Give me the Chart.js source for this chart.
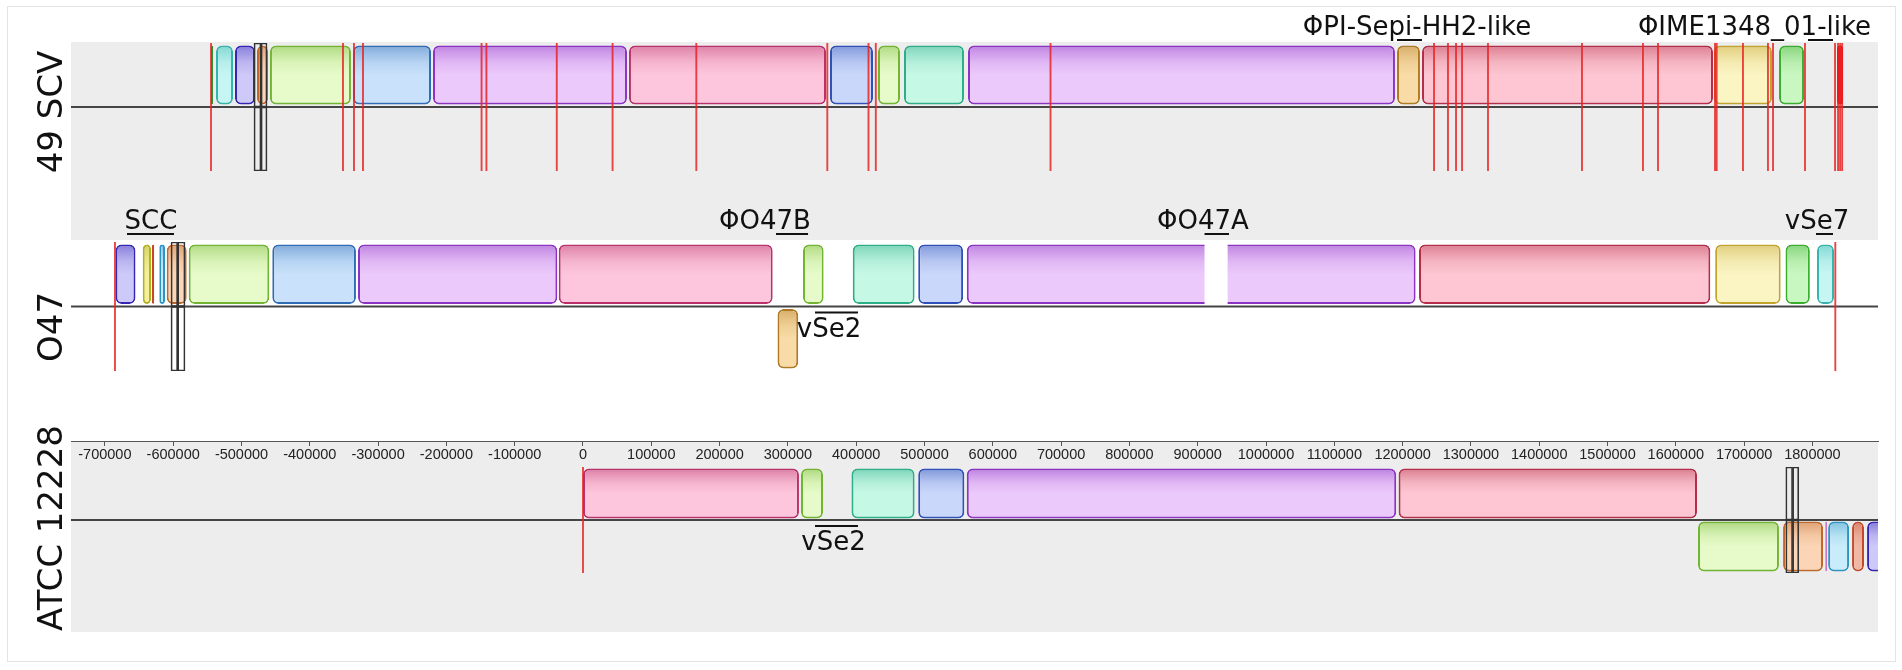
<!DOCTYPE html>
<html>
<head>
<meta charset="utf-8">
<style>
html, body { margin: 0; padding: 0; background: #fff; }
#stage { position: relative; width: 1902px; height: 670px; overflow: hidden; font-family: "DejaVu Sans", sans-serif; }
.frame { position: absolute; left: 7px; top: 6px; width: 1887px; height: 654px; border: 1px solid #e3e3e3; }
.shade { position: absolute; background: #ededed; }
canvas { position: absolute; left: 0; top: 0; }
.genome { position: absolute; font-size: 34px; color: #111; white-space: nowrap; transform: translate(-50%, -50%) rotate(-90deg); }
</style>
<script src="https://cdn.jsdelivr.net/npm/chart.js"></script>
</head>
<body>
<div id="stage">
  <div class="frame"></div>
  <div class="shade" style="left:71px;top:42px;width:1807px;height:198px"></div>
  <div class="shade" style="left:71px;top:441px;width:1807px;height:191px"></div>
  <canvas id="ruler" width="1902" height="670"></canvas>
  <canvas id="scv" width="1902" height="670"></canvas>
  <canvas id="o47" width="1902" height="670"></canvas>
  <canvas id="atcc" width="1902" height="670"></canvas>
  <div class="genome" style="left:50px;top:112px">49 SCV</div>
  <div class="genome" style="left:50px;top:327px">O47</div>
  <div class="genome" style="left:50px;top:528px">ATCC 12228</div>
</div>
<script>
// view window, in bp of the reference (ATCC 12228) coordinates
var X_MIN = -749600;
var X_MAX = 1896000;
var rulerTicks = [-700000, -600000, -500000, -400000, -300000, -200000, -100000, 0, 100000, 200000, 300000, 400000,
                  500000, 600000, 700000, 800000, 900000, 1000000, 1100000, 1200000, 1300000, 1400000, 1500000,
                  1600000, 1700000, 1800000];

// ---- 49 SCV ----
var scvStart  = [-544600, -537300, -509500, -477300, -458300, -336700, -219600, 67300, 361600, 431900, 470000, 563700, 1191800, 1228400, 1655900, 1751100, 1836000];
var scvEnd    = [-541700, -512400, -480200, -461200, -339700, -222500, 64400, 355800, 424600, 464100, 557800, 1188800, 1225400, 1654400, 1740800, 1787700, 1844900];
var scvLcb    = [17, 1, 2, 3, 4, 5, 6, 7, 8, 9, 10, 11, 12, 13, 14, 15, 16];
var scvStrand = ['+', '+', '+', '+', '+', '+', '+', '+', '+', '+', '+', '+', '+', '+', '+', '+', '+'];
var scvCuts   = [-544600, -351400, -335300, -322100, -148500, -141400, -38400, 43300, 165900, 357700, 418000, 428700, 684500,
                 1246000, 1266400, 1278200, 1287000, 1325000, 1462600, 1551900, 1573900, 1657400, 1659800, 1698300,
                 1734900, 1742300, 1789100, 1833100, 1837500, 1840500, 1843500];
var scvBoxFrom = [-481700, -471400];
var scvBoxTo   = [-471400, -462600];
var scvNoteText = ['ΦPI-Sepi-HH2-like', 'ΦIME1348_01-like'];
var scvNoteAt   = [1221100, 1715200];
var scvNoteFrom = [1191800, 1793500];
var scvNoteTo   = [1228400, 1830100];
var scvNoteSide = ['above', 'above'];

// ---- O47 ----
var o47Start  = [-684500, -644600, -631000, -620300, -609500, -577300, -454900, -329400, -35600, 284800, 322100, 394900, 490800, 561900, 1224000, 1657600, 1760600, 1806700];
var o47End    = [-655200, -632500, -627700, -612000, -580200, -459300, -332400, -37600, 277700, 315100, 352300, 485500, 556500, 1219000, 1650500, 1753500, 1796200, 1831600];
var o47Lcb    = [2, 18, 19, 20, 3, 4, 5, 6, 7, 12, 9, 10, 8, 11, 13, 14, 15, 1];
var o47Strand = ['+', '+', '+', '+', '+', '+', '+', '+', '+', '-', '+', '+', '+', '+', '+', '+', '+', '+'];
var o47Cuts   = [-685200, 1833500];
var o47BoxFrom = [-603200, -593400];
var o47BoxTo   = [-593400, -582700];
var o47GapFrom = [910000];
var o47GapTo   = [943800];
var o47NoteText = ['SCC', 'ΦO47B', 'ΦO47A', 'vSe7', 'vSe2'];
var o47NoteAt   = [-632500, 266500, 907700, 1806700, 360200];
var o47NoteFrom = [-667600, 282600, 910000, 1805200, 339700];
var o47NoteTo   = [-598800, 329500, 945800, 1830100, 402600];
var o47NoteSide = ['above', 'above', 'above', 'above', 'below'];

// ---- ATCC 12228 ----
var atccStart  = [0, 319200, 393100, 490800, 561900, 1194100, 1632500, 1757000, 1819000, 1823000, 1858000, 1880000];
var atccEnd    = [316200, 351400, 485500, 558300, 1190600, 1631000, 1751000, 1815500, 1821000, 1853600, 1875500, 1930000];
var atccLcb    = [7, 9, 10, 8, 11, 13, 4, 3, 21, 20, 19, 2];
var atccStrand = ['+', '+', '+', '+', '+', '+', '-', '-', '-', '-', '-', '-'];
var atccCuts   = [0];
var atccBoxFrom = [1761000, 1771000];
var atccBoxTo   = [1771000, 1780000];
var atccNoteText = ['vSe2'];
var atccNoteAt   = [366800];
var atccNoteFrom = [339700];
var atccNoteTo   = [402600];
var atccNoteSide = ['below'];

// LCB colours: [fill, edge]
var palette = {
  1: ['#c6f6f3', '#35b5ad'],  2: ['#cdc9f8', '#3525b5'],  3: ['#fbd5b5', '#c0682a'],
  4: ['#e6fbc9', '#72b530'],  5: ['#c9e1fa', '#2e6cb5'],  6: ['#ebc9fb', '#8c33c4'],
  7: ['#fdc6dc', '#b9306a'],  8: ['#c9d7fa', '#2f50b8'],  9: ['#e6fbc9', '#72b530'],
  10: ['#c6f8e6', '#2cae86'], 11: ['#ebc9fb', '#8c33c4'], 12: ['#f8dba6', '#b07a22'],
  13: ['#fdc6d2', '#b52d48'], 14: ['#fbf4c3', '#c2a32c'], 15: ['#c9f7c1', '#3aae2e'],
  16: ['#ff1010', '#ee0000'], 17: ['#2f8f2f', '#2f8f2f'], 18: ['#f3f09a', '#b4b020'],
  19: ['#f1b7a5', '#c24a2c'], 20: ['#c9ecfa', '#2e95c3'], 21: ['#d040d0', '#b020b0']
};

function hexRgb(h) {
  return [parseInt(h.substr(1, 2), 16), parseInt(h.substr(3, 2), 16), parseInt(h.substr(5, 2), 16)];
}
function mix(a, b, t) {
  var p = hexRgb(a), q = hexRgb(b);
  return 'rgb(' + p.map(function (v, i) { return Math.round(v + (q[i] - v) * t); }).join(',') + ')';
}

// block fill with the darker similarity profile at the top of the block
function blockFill(lcbs) {
  return function (c) {
    var col = palette[lcbs[c.dataIndex]];
    var a = c.chart.chartArea;
    if (!a || !c.raw) return col[0];
    var h = (a.bottom - a.top) / 2;
    var top = a.top + (c.raw.y === 'down' ? h : 0);
    var g = c.chart.ctx.createLinearGradient(0, top, 0, top + h);
    g.addColorStop(0, mix(col[0], col[1], 0.6));
    g.addColorStop(0.1, mix(col[0], col[1], 0.38));
    g.addColorStop(0.3, mix(col[0], col[1], 0.12));
    g.addColorStop(0.5, col[0]);
    g.addColorStop(1, col[0]);
    return g;
  };
}

function bothLanes(from, to) {
  var out = [];
  from.forEach(function (f, i) {
    out.push({ x: [f, to[i]], y: 'up' });
    out.push({ x: [f, to[i]], y: 'down' });
  });
  return out;
}

function trackSets(starts, ends, lcbs, strands, cuts, boxFrom, boxTo, gapFrom, gapTo, barPct) {
  var sets = [];
  sets.push({
    label: 'blocks',
    data: starts.map(function (s, i) { return { x: [s, ends[i]], y: strands[i] === '+' ? 'up' : 'down' }; }),
    backgroundColor: blockFill(lcbs),
    borderColor: lcbs.map(function (k) { return palette[k][1]; }),
    borderWidth: 2, borderRadius: 6, borderSkipped: false,
    barPercentage: barPct, categoryPercentage: 1, grouped: false, order: 3
  });
  if (gapFrom.length) {
    sets.push({
      label: 'gaps',
      data: gapFrom.map(function (f, i) { return { x: [f, gapTo[i]], y: 'up' }; }),
      backgroundColor: '#ffffff', borderWidth: 0,
      barPercentage: barPct + 0.03, categoryPercentage: 1, grouped: false, order: 2
    });
  }
  sets.push({
    label: 'contig ends',
    data: bothLanes(cuts.map(function (v) { return v - 900; }), cuts.map(function (v) { return v + 900; })),
    backgroundColor: 'rgba(232,35,35,0.85)', borderWidth: 0,
    barPercentage: 1, categoryPercentage: 1, grouped: false, order: 1
  });
  sets.push({
    label: 'selection',
    data: bothLanes(boxFrom, boxTo),
    backgroundColor: 'rgba(0,0,0,0)', borderColor: '#333', borderWidth: 1, borderSkipped: false,
    barPercentage: 1, categoryPercentage: 1, grouped: false, order: 0
  });
  return sets;
}

function notes(text, at, from, to, side) {
  return text.map(function (t, i) { return { text: t, at: at[i], from: from[i], to: to[i], side: side[i] }; });
}

// centre line of each genome and the feature captions
var trackDecor = {
  id: 'trackDecor',
  beforeDatasetsDraw: function (chart, args, opts) {
    var a = chart.chartArea, ctx = chart.ctx;
    var mid = (a.top + a.bottom) / 2;
    ctx.save();
    ctx.strokeStyle = '#454545';
    ctx.lineWidth = 1.8;
    ctx.beginPath();
    ctx.moveTo(a.left, mid);
    ctx.lineTo(a.right, mid);
    ctx.stroke();
    ctx.restore();
  },
  afterDatasetsDraw: function (chart, args, opts) {
    var a = chart.chartArea, ctx = chart.ctx, x = chart.scales.x;
    var mid = (a.top + a.bottom) / 2;
    ctx.save();
    ctx.font = '26px "DejaVu Sans"';
    ctx.fillStyle = '#111';
    ctx.strokeStyle = '#111';
    ctx.lineWidth = 2;
    ctx.textAlign = 'center';
    ctx.textBaseline = 'alphabetic';
    (opts.notes || []).forEach(function (n) {
      var base, lineY;
      if (n.side === 'above') { base = a.top - opts.gap; lineY = base + 5; }
      else { base = mid + 30; lineY = mid + 6; }
      ctx.fillText(n.text, x.getPixelForValue(n.at), base);
      ctx.beginPath();
      ctx.moveTo(x.getPixelForValue(n.from), lineY);
      ctx.lineTo(x.getPixelForValue(n.to), lineY);
      ctx.stroke();
    });
    ctx.restore();
  }
};

function trackChart(id, top, bottom, sets, noteList, gap) {
  return new Chart(document.getElementById(id), {
    type: 'bar',
    data: { labels: ['up', 'down'], datasets: sets },
    options: {
      indexAxis: 'y',
      responsive: false,
      animation: false,
      layout: { padding: { left: 71, right: 24, top: top, bottom: 670 - bottom } },
      plugins: {
        legend: { display: false },
        tooltip: { enabled: false },
        trackDecor: { notes: noteList, gap: gap }
      },
      scales: {
        x: { type: 'linear', min: X_MIN, max: X_MAX, display: false },
        y: { type: 'category', labels: ['up', 'down'], display: false }
      }
    },
    plugins: [trackDecor]
  });
}

trackChart('scv', 43, 171,
  trackSets(scvStart, scvEnd, scvLcb, scvStrand, scvCuts, scvBoxFrom, scvBoxTo, [], [], 0.92),
  notes(scvNoteText, scvNoteAt, scvNoteFrom, scvNoteTo, scvNoteSide), 8);

trackChart('o47', 242, 371,
  trackSets(o47Start, o47End, o47Lcb, o47Strand, o47Cuts, o47BoxFrom, o47BoxTo, o47GapFrom, o47GapTo, 0.92),
  notes(o47NoteText, o47NoteAt, o47NoteFrom, o47NoteTo, o47NoteSide), 13);

trackChart('atcc', 467, 573,
  trackSets(atccStart, atccEnd, atccLcb, atccStrand, atccCuts, atccBoxFrom, atccBoxTo, [], [], 0.94),
  notes(atccNoteText, atccNoteAt, atccNoteFrom, atccNoteTo, atccNoteSide), 10);

// position ruler of the reference genome
new Chart(document.getElementById('ruler'), {
  type: 'scatter',
  data: { datasets: [{ data: [] }] },
  options: {
    responsive: false,
    animation: false,
    layout: { padding: { left: 71, right: 24, top: 0, bottom: 199 } },
    plugins: { legend: { display: false }, tooltip: { enabled: false } },
    scales: {
      x: {
        type: 'linear', position: 'bottom', min: X_MIN, max: X_MAX,
        afterFit: function (s) { s.height = 30; },
        afterBuildTicks: function (s) { s.ticks = rulerTicks.map(function (v) { return { value: v }; }); },
        border: { display: true, color: '#555', width: 1 },
        grid: { drawOnChartArea: false, drawTicks: true, tickLength: 5, color: '#555' },
        ticks: {
          autoSkip: false, maxRotation: 0, padding: 0,
          color: '#222', font: { family: 'Liberation Sans', size: 14.5 },
          callback: function (v) { return String(v); }
        }
      },
      y: { display: false }
    }
  }
});
</script>
</body>
</html>
